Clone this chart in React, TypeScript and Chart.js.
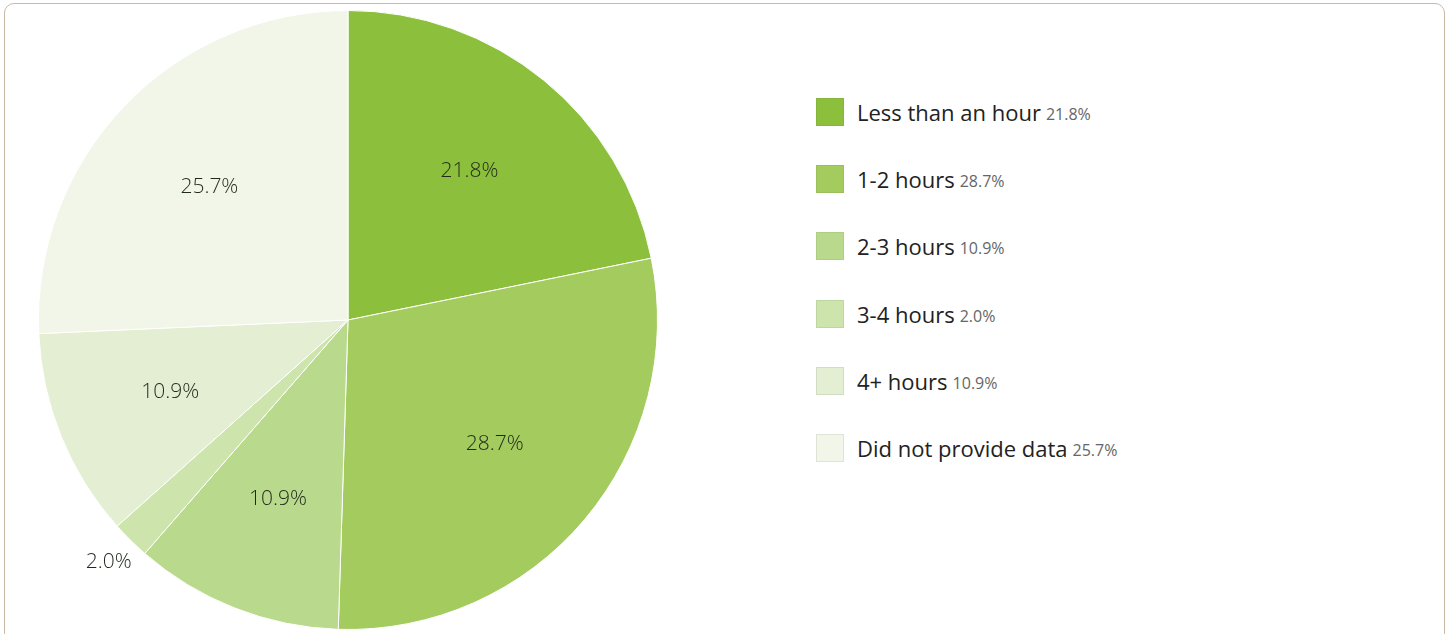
import React, { useEffect, useRef } from "react";
import { Chart, registerables } from "chart.js";

Chart.register(...registerables);

const categories = [
  "Less than an hour",
  "1-2 hours",
  "2-3 hours",
  "3-4 hours",
  "4+ hours",
  "Did not provide data",
];
const values = [21.8, 28.7, 10.9, 2.0, 10.9, 25.7];
const colors = ["#8cc03c", "#a3cb5e", "#b9d98c", "#cde4ad", "#e3eed3", "#f2f6e9"];
const legendBorders = ["#86b53c", "#9bbf5a", "#aecd85", "#c0d6a2", "#d2dcc4", "#dfe3d6"];

const FONT = "'Open Sans', Lato, sans-serif";

const labelPlugin = {
  id: "sliceLabels",
  afterDatasetsDraw(chart: any) {
    const ctx = chart.ctx;
    const meta = chart.getDatasetMeta(0);
    ctx.save();
    ctx.font = `300 21px ${FONT}`;
    ctx.fillStyle = "#1f2a1b";
    ctx.textAlign = "center";
    ctx.textBaseline = "middle";
    meta.data.forEach((arc: any, i: number) => {
      const p = arc.getProps(["x", "y", "startAngle", "endAngle", "outerRadius"], true);
      const mid = (p.startAngle + p.endAngle) / 2;
      const v = values[i];
      const r = v < 5 ? p.outerRadius * 1.1 : p.outerRadius * 0.62;
      const x = p.x + Math.cos(mid) * r;
      const y = p.y + Math.sin(mid) * r;
      ctx.fillText(`${v.toFixed(1)}%`, x, y);
    });
    ctx.restore();
  },
};

function App() {
  const canvasRef = useRef<HTMLCanvasElement | null>(null);

  useEffect(() => {
    if (!canvasRef.current) return;
    const chart = new Chart(canvasRef.current, {
      type: "pie",
      data: {
        labels: categories,
        datasets: [
          {
            data: values,
            backgroundColor: colors,
            borderColor: "#ffffff",
            borderWidth: 1,
          },
        ],
      },
      options: {
        animation: false,
        responsive: false,
        devicePixelRatio: 1,
        layout: { padding: 10 },
        plugins: {
          legend: { display: false },
          tooltip: { enabled: false },
        },
      },
      plugins: [labelPlugin],
    });
    return () => chart.destroy();
  }, []);

  return (
    <div style={{ position: "fixed", left: 0, top: 0, width: 1450, height: 634, overflow: "hidden", background: "#fff" }}>
      <div
        style={{
          position: "absolute",
          left: 4,
          top: 3,
          width: 1441,
          height: 640,
          border: "1px solid #cbb8a2",
          borderRadius: 10,
          boxSizing: "border-box",
        }}
      />
      <canvas
        ref={canvasRef}
        width={696}
        height={640}
        style={{ position: "absolute", left: 0, top: 0, width: 696, height: 640 }}
      />
      {categories.map((c, i) => (
        <div
          key={c}
          style={{
            position: "absolute",
            left: 816,
            top: 98 + i * 67.2,
            height: 28,
            display: "flex",
            alignItems: "center",
            fontFamily: FONT,
            whiteSpace: "nowrap",
          }}
        >
          <div
            style={{
              width: 28,
              height: 28,
              boxSizing: "border-box",
              background: colors[i],
              border: `1px solid ${legendBorders[i]}`,
              marginRight: 13,
            }}
          />
          <span style={{ fontSize: 22, color: "#222" }}>{c}</span>
          <span style={{ fontSize: 16, color: "#666", marginLeft: 5, marginTop: 4 }}>{`${values[i].toFixed(1)}%`}</span>
        </div>
      ))}
    </div>
  );
}

export default App;
